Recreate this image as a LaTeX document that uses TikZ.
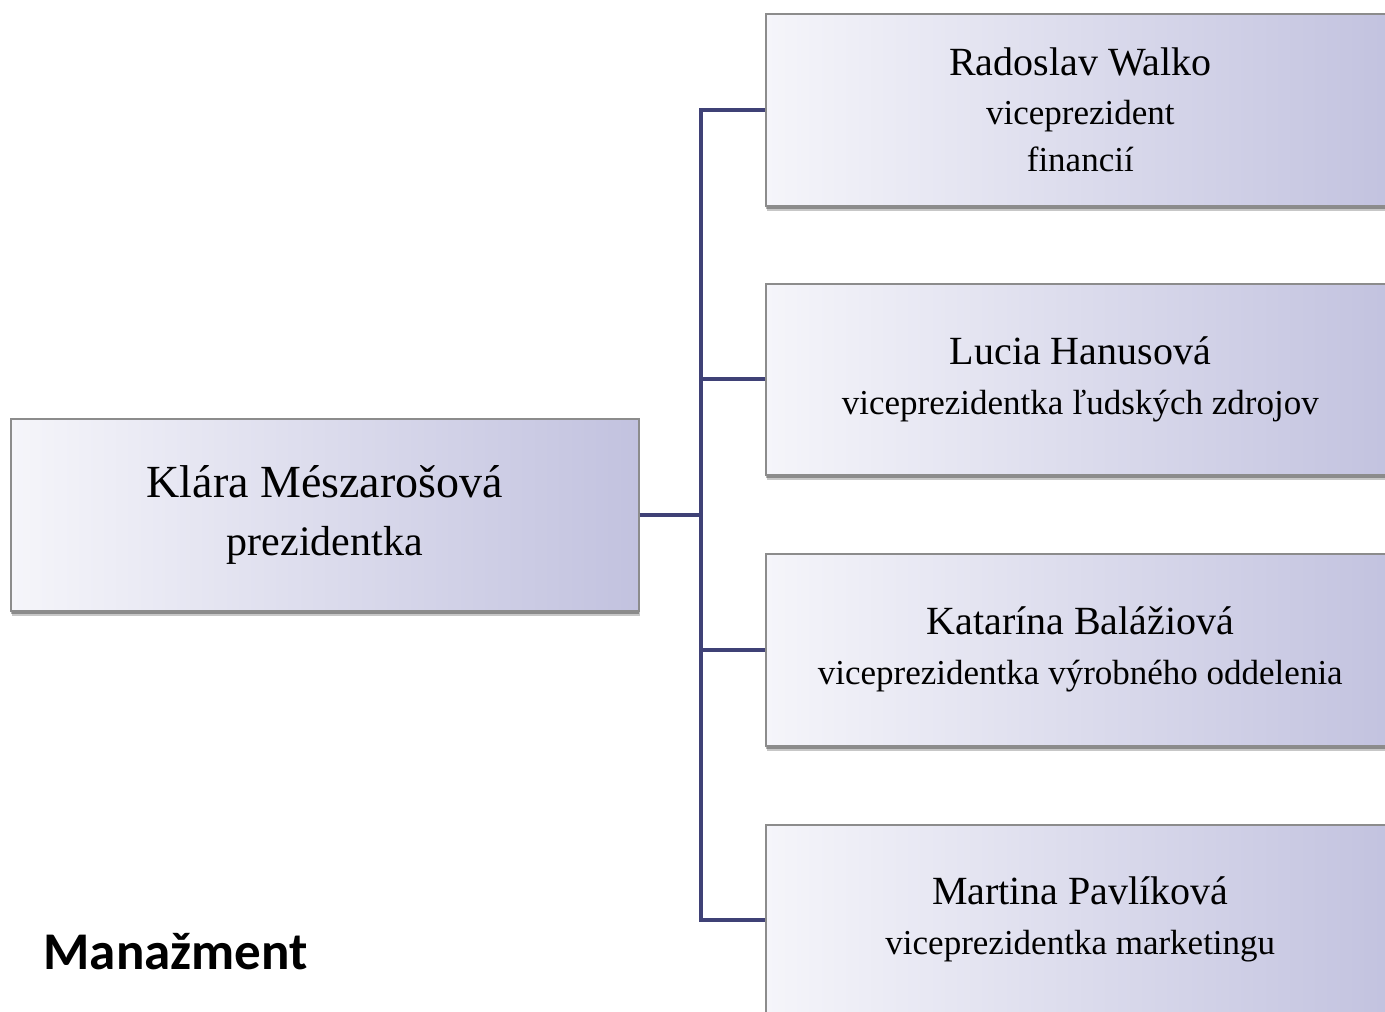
\documentclass[tikz,border=0pt]{standalone}
\usepackage{fontspec}
\setmainfont{Liberation Serif}
\newfontfamily\calib{Carlito}
\usetikzlibrary{shadows}
\definecolor{boxL}{HTML}{F5F5FA}
\definecolor{boxR}{HTML}{C2C2DF}
\definecolor{boxB}{HTML}{8C8C8C}
\definecolor{conncol}{HTML}{3F4176}
\tikzset{
  orgbox/.style={rectangle, anchor=north west, draw=boxB, line width=1.6pt,
    left color=boxL, right color=boxR, shading angle=90, align=center,
    inner sep=0pt, text=black,
    drop shadow={shadow xshift=1pt, shadow yshift=-5pt, opacity=0.22, fill=black},
    drop shadow={shadow xshift=0.5pt, shadow yshift=-3pt, opacity=0.3, fill=black}},
  conn/.style={draw=conncol, line width=3.8pt},
}
\newcommand{\bigname}[1]{{\fontsize{40}{48}\selectfont #1}}
\newcommand{\mainname}[1]{{\fontsize{46}{58}\selectfont #1}}
\begin{document}
\begin{tikzpicture}[x=1pt,y=-1pt]
\useasboundingbox (0,0) rectangle (1385,1012);
\clip (0,0) rectangle (1385,1012);
\node[orgbox, minimum width=628, minimum height=192,
  font=\fontsize{42}{58}\selectfont] (main) at (10,418)
  {\mainname{Klára Mészarošová}\\prezidentka};
\node[orgbox, minimum width=629, minimum height=192,
  font=\fontsize{35}{47}\selectfont] (b1) at (765,13)
  {\bigname{Radoslav Walko}\\[2pt]viceprezident\\financií};
\node[orgbox, minimum width=629, minimum height=191,
  font=\fontsize{35}{50}\selectfont] (b2) at (765,283)
  {\bigname{Lucia Hanusová}\\viceprezidentka ľudských zdrojov};
\node[orgbox, minimum width=629, minimum height=192,
  font=\fontsize{35}{50}\selectfont] (b3) at (765,553)
  {\bigname{Katarína Balážiová}\\viceprezidentka výrobného oddelenia};
\node[orgbox, minimum width=629, minimum height=190,
  font=\fontsize{35}{50}\selectfont] (b4) at (765,824)
  {\bigname{Martina Pavlíková}\\viceprezidentka marketingu};
\coordinate (jx) at (701,0);
\draw[conn] (b1.west) -| (jx |- b4.west) -- (b4.west);
\draw[conn] (b2.west) -- (b2.west -| jx);
\draw[conn] (b3.west) -- (b3.west -| jx);
\draw[conn] (main.east) -- (main.east -| jx);
\node[anchor=west, font=\calib\bfseries\fontsize{53}{60}\selectfont] (title) at (40,952) {Manažment};
\end{tikzpicture}
\end{document}
